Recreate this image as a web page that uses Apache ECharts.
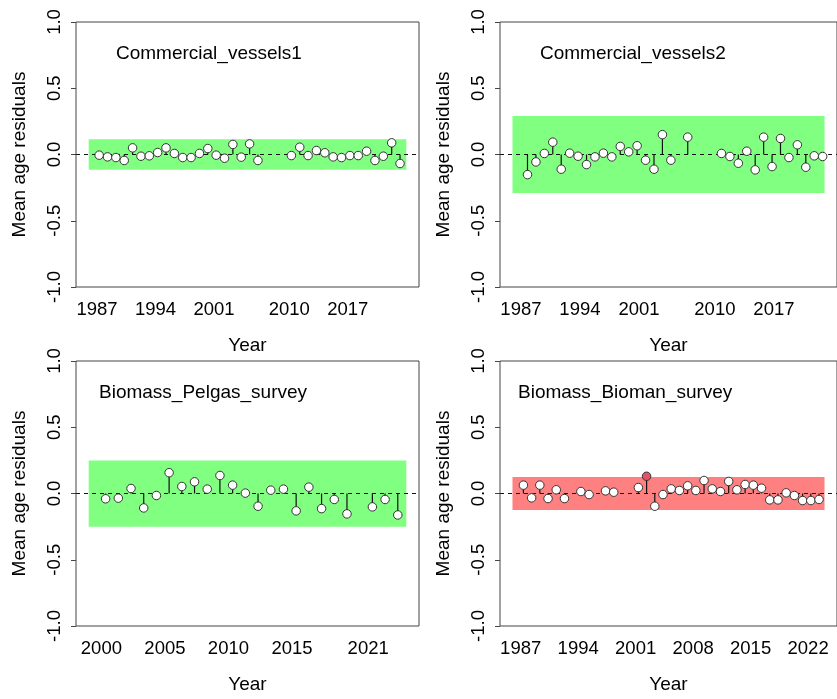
<!DOCTYPE html>
<html><head><meta charset="utf-8">
<script src="https://cdn.jsdelivr.net/npm/echarts@6/dist/echarts.min.js"></script>
<style>html,body{margin:0;padding:0;background:#fff}#c{width:837px;height:699px}</style>
</head><body><div id="c"></div>
<script>
// ---------- DATA ----------
const p1Title = 'Commercial_vessels1';
const p1Years = [1987,1988,1989,1990,1991,1992,1993,1994,1995,1996,1997,1998,1999,2000,2001,2002,2003,2004,2005,2006,
                 2010,2011,2012,2013,2014,2015,2016,2017,2018,2019,2020,2021,2022,2023];
const p1Season = 0.25;   // within-year timing of the observations
const p1Vals  = [-0.005,-0.018,-0.023,-0.045,0.05,-0.013,-0.01,0.015,0.05,0.008,-0.023,-0.023,0.008,0.045,-0.005,-0.028,0.076,-0.02,0.08,-0.045,
                 -0.008,0.055,-0.008,0.03,0.013,-0.018,-0.023,-0.008,-0.008,0.025,-0.045,-0.013,0.088,-0.068];
const p1Band  = [-0.115, 0.115];
const p1Ticks = [1987,1988,1989,1990,1991,1992,1993,1994,1995,1996,1997,1998,1999,2000,2001,2002,2003,2004,2005,2006,
                 2010,2011,2012,2013,2014,2015,2016,2017,2018,2019,2020,2021,2022,2023];
const p1Labels = [1987,1994,2001,2010,2017];

const p2Title = 'Commercial_vessels2';
const p2Years = [1987,1988,1989,1990,1991,1992,1993,1994,1995,1996,1997,1998,1999,2000,2001,2002,2003,2004,2006,
                 2010,2011,2012,2013,2014,2015,2016,2017,2018,2019,2020,2021,2022];
const p2Season = 0.78;
const p2Vals  = [-0.152,-0.056,0.008,0.093,-0.111,0.01,-0.013,-0.076,-0.018,0.01,-0.018,0.061,0.02,0.066,-0.043,-0.111,0.15,-0.043,0.131,
                 0.008,-0.015,-0.066,0.025,-0.116,0.131,-0.091,0.121,-0.023,0.073,-0.096,-0.01,-0.015];
const p2Band  = [-0.29, 0.29];
const p2Ticks = [1987,1988,1989,1990,1991,1992,1993,1994,1995,1996,1997,1998,1999,2000,2001,2002,2003,2004,2006,
                 2010,2011,2012,2013,2014,2015,2016,2017,2018,2019,2020,2021,2022,2023];
const p2Labels = [1987,1994,2001,2010,2017];

const p3Title = 'Biomass_Pelgas_survey';
const p3Years = [2000,2001,2002,2003,2004,2005,2006,2007,2008,2009,2010,2011,2012,2013,2014,2015,2016,2017,2018,2019,2021,2022,2023];
const p3Season = 0.33;
const p3Vals  = [-0.04,-0.035,0.038,-0.109,-0.015,0.157,0.053,0.088,0.033,0.136,0.063,0.003,-0.096,0.025,0.033,-0.131,0.048,-0.114,-0.045,-0.154,-0.101,-0.045,-0.162];
const p3Band  = [-0.25, 0.25];
const p3Ticks = [2000,2001,2002,2003,2004,2005,2006,2007,2008,2009,2010,2011,2012,2013,2014,2015,2016,2017,2018,2019,2021,2022,2023];
const p3Labels = [2000,2005,2010,2015,2021];

const p4Title = 'Biomass_Bioman_survey';
const p4Years = [1987,1988,1989,1990,1991,1992,1994,1995,1997,1998,2001,2002,2003,2004,2005,2006,2007,2008,2009,2010,
                 2011,2012,2013,2014,2015,2016,2017,2018,2019,2020,2021,2022,2023];
const p4Season = 0.33;
const p4Vals  = [0.063,-0.033,0.063,-0.038,0.028,-0.038,0.015,-0.008,0.02,0.01,0.045,0.13,-0.096,-0.008,0.035,0.023,0.058,0.023,0.098,0.035,
                 0.015,0.091,0.028,0.068,0.063,0.04,-0.048,-0.048,0.005,-0.015,-0.053,-0.053,-0.045];
const p4Band  = [-0.125, 0.125];
const p4Ticks = [1987,1988,1989,1990,1991,1992,1994,1995,1997,1998,2001,2002,2003,2004,2005,2006,2007,2008,2009,2010,
                 2011,2012,2013,2014,2015,2016,2017,2018,2019,2020,2021,2022,2023];
const p4Labels = [1987,1994,2001,2008,2015,2022];

const yTicks = [-1, -0.5, 0, 0.5, 1];

// ---------- LAYOUT / STYLE ----------
const panels = [
  {title:p1Title, years:p1Years, season:p1Season, vals:p1Vals, band:p1Band, ticks:p1Ticks, labels:p1Labels, bandColor:'#80FF80'},
  {title:p2Title, years:p2Years, season:p2Season, vals:p2Vals, band:p2Band, ticks:p2Ticks, labels:p2Labels, bandColor:'#80FF80'},
  {title:p3Title, years:p3Years, season:p3Season, vals:p3Vals, band:p3Band, ticks:p3Ticks, labels:p3Labels, bandColor:'#80FF80'},
  {title:p4Title, years:p4Years, season:p4Season, vals:p4Vals, band:p4Band, ticks:p4Ticks, labels:p4Labels, bandColor:'#FF8080'}
];
const layout = [
  {left:76,  top:22,  tl:116, tt:44},
  {left:500, top:22,  tl:540, tt:44},
  {left:76,  top:361, tl:99,  tt:383},
  {left:500, top:361, tl:518, tt:383}
];
const W = 343, H = 265;
const FONT = 'Liberation Sans, Arial, sans-serif';
const FS = 18.5;
const frameCol = '#444';

const option = {animation:false, backgroundColor:'#fff', title:[], grid:[], xAxis:[], yAxis:[], series:[]};

panels.forEach((p, i) => {
  const L = layout[i];
  const lo = Math.min(...p.years) - 1, hi = Math.max(...p.years) + 1;
  const ext = 0.04 * (hi - lo);
  const pts = p.years.map((y,k)=>[y + p.season, p.vals[k]]);
  option.title.push({text:p.title, left:L.tl, top:L.tt, padding:0,
    textStyle:{fontFamily:FONT, fontSize:19, fontWeight:'normal', color:'#000'}});
  option.grid.push({left:L.left, top:L.top, width:W, height:H, show:true, borderColor:frameCol, borderWidth:1, backgroundColor:'transparent'});
  option.xAxis.push({gridIndex:i, type:'value', min:lo - ext, max:hi + ext,
    axisLine:{show:false},
    axisTick:{show:true, customValues:p.ticks, length:5, lineStyle:{color:frameCol, width:1}},
    axisLabel:{customValues:p.labels, fontFamily:FONT, fontSize:FS, color:'#000', margin:13, formatter:v=>String(v)},
    splitLine:{show:false},
    name:'Year', nameLocation:'middle', nameGap:49,
    nameTextStyle:{fontFamily:FONT, fontSize:19, color:'#000'}});
  option.yAxis.push({gridIndex:i, type:'value', min:-1, max:1,
    axisLine:{show:false},
    axisTick:{show:true, customValues:yTicks, length:5, lineStyle:{color:frameCol, width:1}},
    axisLabel:{customValues:yTicks, rotate:90, fontFamily:FONT, fontSize:FS, color:'#000', margin:12, formatter:v=>v.toFixed(1)},
    splitLine:{show:false},
    name:'Mean age residuals', nameLocation:'middle', nameGap:47, nameRotate:90,
    nameTextStyle:{fontFamily:FONT, fontSize:19, color:'#000'}});
  // band
  option.series.push({type:'custom', xAxisIndex:i, yAxisIndex:i, z:1, silent:true, clip:true,
    data:[[lo, hi, p.band[0], p.band[1]]],
    renderItem:(params, api) => {
      const a = api.coord([api.value(0), api.value(3)]);
      const b = api.coord([api.value(1), api.value(2)]);
      return {type:'rect', shape:{x:a[0], y:a[1], width:b[0]-a[0], height:b[1]-a[1]}, style:{fill:p.bandColor}};
    }});
  // stems + zero line
  option.series.push({type:'custom', xAxisIndex:i, yAxisIndex:i, z:3, silent:true,
    data:pts,
    renderItem:(params, api) => {
      const a = api.coord([api.value(0), 0]);
      const b = api.coord([api.value(0), api.value(1)]);
      return {type:'line', shape:{x1:a[0], y1:a[1], x2:b[0], y2:b[1]}, style:{stroke:'#111', lineWidth:1.2}};
    },
    markLine:{silent:true, symbol:'none', label:{show:false}, z:2,
      lineStyle:{type:[4,4], color:'#111', width:1}, data:[{yAxis:0}]}
  });
  // points
  option.series.push({type:'scatter', xAxisIndex:i, yAxisIndex:i, z:5, silent:true,
    data:pts,
    symbol:'circle', symbolSize:8.5,
    itemStyle:{borderColor:'#333', borderWidth:1, opacity:1,
      color:(d)=> (d.value[1] > p.band[1] || d.value[1] < p.band[0]) ? '#DF536B' : '#FFFFFF'}
  });
});

const chart = echarts.init(document.getElementById('c'), null, {renderer:'canvas'});
chart.setOption(option);
</script>
</body></html>
